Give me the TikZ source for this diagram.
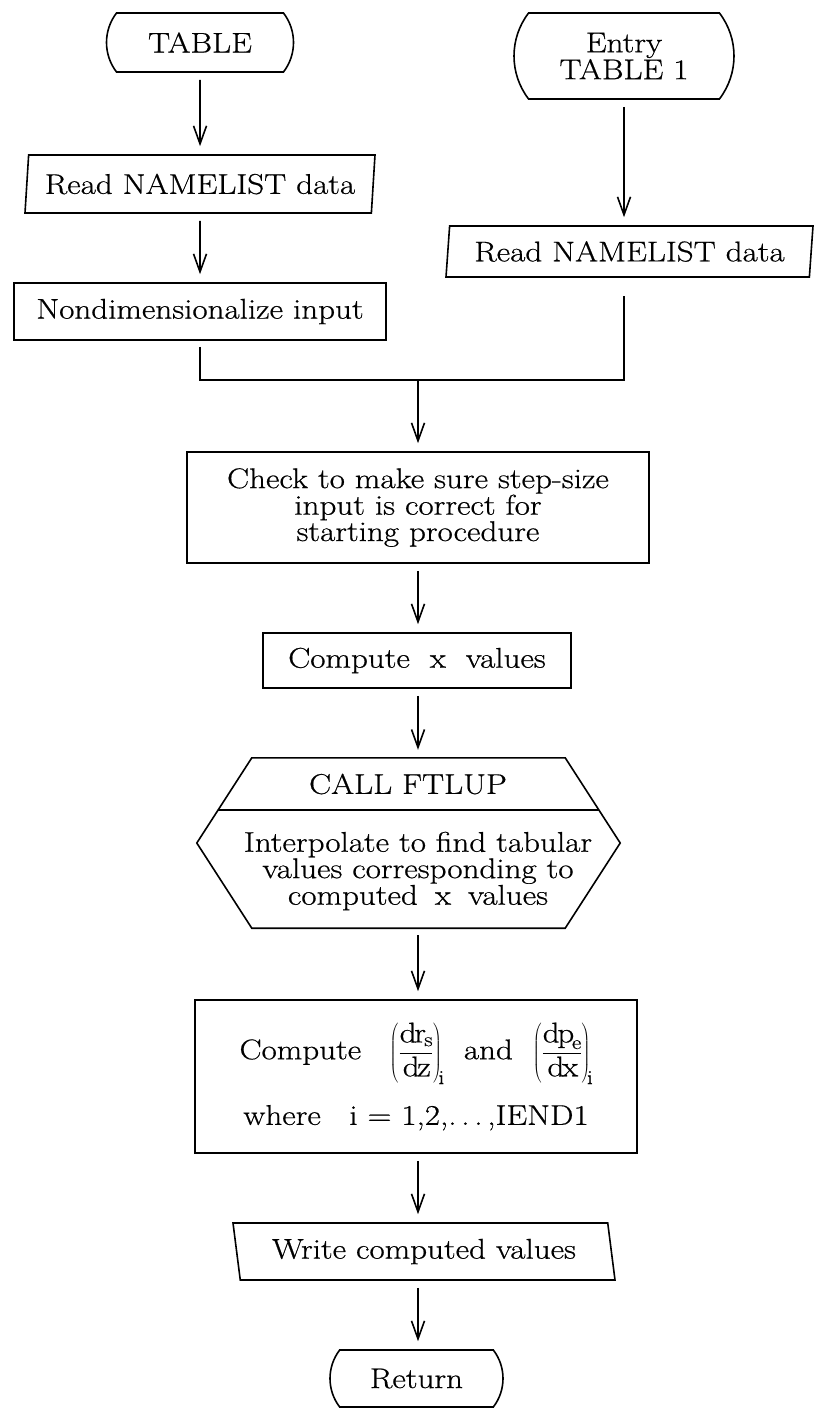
\documentclass[tikz,border=0pt]{standalone}
\usepackage{fontspec}
\setmainfont{Latin Modern Roman}[FakeStretch=1.16, FakeBold=0.6]
\usepackage{tikz}
\usetikzlibrary{arrows.meta, shapes.geometric, shapes.misc}

\tikzset{
	every node/.style = {font = \fontsize{28.5}{24}\selectfont, align = center},
	box/.style = {draw, line width = 1.6pt, rectangle, inner sep = 0pt},
	term/.style = {draw, line width = 1.6pt, rounded rectangle, rounded rectangle arc length = 75, inner sep = 0pt},
	inout/.style = {draw, line width = 1.6pt, trapezium, trapezium left angle = 80, trapezium right angle = 100,
		trapezium stretches = true, trapezium stretches body = true, inner sep = 0pt},
	flow/.style = {line width = 1.6pt, shorten <= 7pt, shorten >= 8pt, -{Straight Barb[length = 18pt, width = 13pt]}},
	wire/.style = {line width = 1.6pt}
}

\begin{document}
\begin{tikzpicture}[x = 1pt, y = -1pt]
		\useasboundingbox (0, 0) rectangle (814, 1408);

		% left entry
		\node[term, minimum width = 187pt, minimum height = 59pt] (tbl) at (200, 42.5) {TABLE};
		\node[inout, minimum width = 350pt, minimum height = 58pt] (rdL) at (200, 184) {Read NAMELIST data};
		\node[box, minimum width = 372pt, minimum height = 57pt] (nd) at (200, 311.5) {Nondimensionalize input};

		% right entry
		\node[term, minimum width = 220pt, minimum height = 86pt] (ent) at (624, 56) {Entry\\TABLE 1};
		\node[inout, minimum width = 367pt, minimum height = 51pt] (rdR) at (629.5, 251.5) {Read NAMELIST data};

		% main line
		\coordinate (jn) at (418, 380);
		\node[box, minimum width = 462pt, minimum height = 111pt] (chk) at (418, 507.5) {Check to make sure step-size\\input is correct for\\starting procedure};
		\node[box, minimum width = 308pt, minimum height = 55pt] (cx) at (417, 660.5) {Compute\hspace{0.7em}x\hspace{0.7em}values};

		% table lookup
		\node[minimum width = 423pt, minimum height = 170pt, inner sep = 0pt] (ftlup) at (408.5, 843) {};
		\draw[wire] (ftlup.west) -- ([xshift = 55pt]ftlup.north west) -- ([xshift = -55pt]ftlup.north east)
			-- (ftlup.east) -- ([xshift = -55pt]ftlup.south east) -- ([xshift = 55pt]ftlup.south west) -- cycle;
		\draw[wire] ([shift = {(21.4pt, 33pt)}]ftlup.west) -- ([shift = {(-21.4pt, 33pt)}]ftlup.east);
		\node (call) at (408, 784) {CALL FTLUP};
		\node (interp) at (418, 871) {Interpolate to find tabular\\values corresponding to\\computed\hspace{0.6em}x\hspace{0.6em}values};

		\node[box, minimum width = 442pt, minimum height = 153pt] (cmpd) at (416, 1076.5) {Compute\hspace{1em}$\left(\displaystyle\frac{\mathrm{dr}_{\mathrm{s}}}{\mathrm{dz}}\right)_{\!\mathrm{i}}$\hspace{0.7em}and\hspace{0.7em}$\left(\displaystyle\frac{\mathrm{dp}_{\mathrm{e}}}{\mathrm{dx}}\right)_{\!\mathrm{i}}$\\[20pt]where\hspace{1em}i = 1,2,.\,.\,.\,,IEND1};

		% output
		\node[inout, trapezium left angle = 106, trapezium right angle = 74, minimum width = 382pt, minimum height = 57pt] (wr) at (424, 1251.5) {Write computed values};
		\node[term, minimum width = 173pt, minimum height = 57pt] (ret) at (416.5, 1378.5) {Return};

		% connectors
		\draw[flow] (tbl.south) -- (rdL.north);
		\draw[flow] (rdL.south) -- (nd.north);
		\draw[flow] (ent.south) -- (ent.south |- rdR.north);
		\draw[wire, shorten <= 6pt, shorten >= 18pt] (nd.south) |- (jn) -| (ent.south |- rdR.south);
		\draw[flow, shorten <= 0pt] (jn) -- (chk.north);
		\draw[flow] (chk.south) -- (chk.south |- cx.north);
		\draw[flow] (chk.south |- cx.south) -- (chk.south |- ftlup.north);
		\draw[flow] (chk.south |- ftlup.south) -- (chk.south |- cmpd.north);
		\draw[flow] (chk.south |- cmpd.south) -- (chk.south |- wr.north);
		\draw[flow] (chk.south |- wr.south) -- (chk.south |- ret.north);
	\end{tikzpicture}
\end{document}
